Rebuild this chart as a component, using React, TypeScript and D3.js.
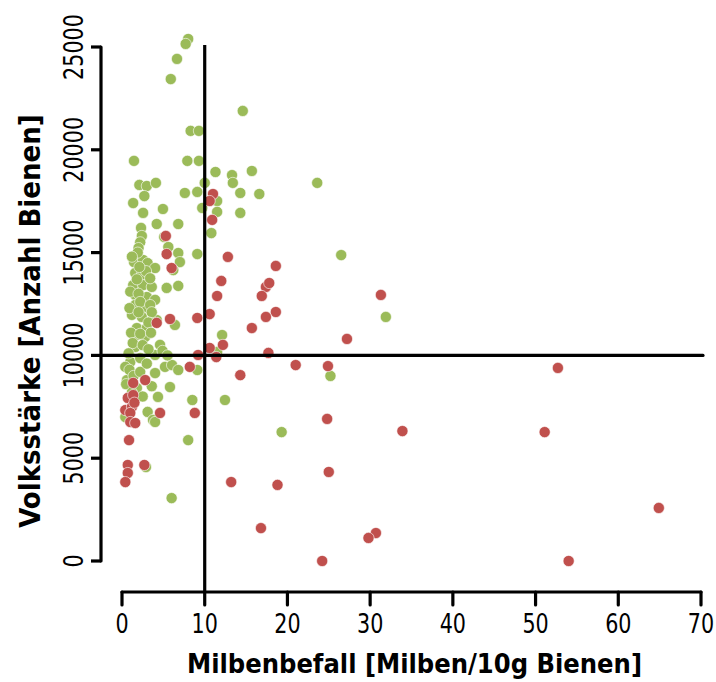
import React from "react";
import * as d3 from "d3";

// Green points (Milbenbefall, Volksstärke)
const greenX = [8.0,7.7,6.65,5.9,14.6,8.3,9.3,1.45,7.9,9.3,11.3,13.3,13.4,15.7,2.1,3.0,4.1,10.0,2.7,7.6,9.1,14.3,16.6,1.35,2.55,4.95,9.7,11.5,11.5,14.3,4.2,6.8,2.3,2.4,5.1,10.8,2.2,2.0,5.6,6.8,7.0,9.1,6.2,23.6,26.5,31.9,
  1.45,2.55,3.1,4.0,1.6,2.4,1.35,2.55,3.6,5.4,6.8,1.6,3.0,4.0,1.6,2.8,1.2,2.4,4.2,6.4,1.8,3.0,1.8,2.8,1.6,4.6,1.0,2.2,4.0,4.9,5.2,6.05,6.8,4.0,9.1,12.1,11.5,0.6,1.8,5.8,4.35,3.1,3.75,8.5,12.45,0.4,0.4,4.0,8.0,2.9,6.0,25.2,19.3,
  1.9,1.2,2.9,3.4,1.0,2.0,2.2,3.4,3.6,0.9,2.0,3.2,1.1,2.2,3.5,1.3,2.5,0.8,3.2,2.1,1.8,0.9,1.4,2.2,0.5,1.2,2.5,3.6,3.0,5.5];
const greenY = [25390,25150,24420,23440,21890,20920,20920,19460,19460,19460,18920,18770,18390,18970,18290,18240,18390,18390,17750,17900,17950,17900,17850,17410,16930,17120,17170,17510,16980,16930,16390,16390,16200,15810,15760,15950,15500,15220,15270,14980,14540,14930,14150,18390,14880,11870,
  14540,14640,14490,14250,14010,13910,13420,13420,13330,13280,13380,12940,12840,12700,12450,12350,11970,11870,11720,11480,11330,11330,10990,10900,10410,10510,9680,9870,10020,10220,9440,9530,9290,9140,9290,10990,10170,8800,8410,8460,7980,7250,6860,7830,7830,9440,7000,6760,5880,4570,3060,9000,6270,
  15000,14800,14100,13750,13100,13000,12600,12450,12100,12300,12100,11600,11100,11050,11100,10600,10500,10100,10300,14300,13700,9300,9000,9200,8600,8200,8000,8500,9600,10000];

// Red points
const redX = [11.0,10.6,10.9,12.8,5.3,5.4,6.0,18.6,12.0,11.5,17.4,17.8,16.9,18.6,17.4,15.7,10.6,9.1,4.2,5.8,31.3,27.2,12.2,10.6,11.4,9.2,17.7,21.0,24.9,52.7,14.3,8.2,1.35,2.8,
  0.7,1.35,0.4,1.2,1.0,1.0,1.6,1.5,4.6,8.8,0.85,0.7,0.7,0.4,2.7,24.8,33.9,51.1,25.0,13.2,18.8,64.9,16.8,30.7,29.8,24.2,54.0];
const redY = [17850,17510,16590,14790,15810,14930,14250,14350,13620,12890,13330,13520,12890,12110,11870,11330,12010,11820,11580,11770,12940,10800,10510,10360,9920,10020,10120,9530,9480,9390,9040,9440,8660,8800,
  7930,8070,7340,7490,7200,6760,6710,7700,7200,7200,5880,4670,4280,3840,4670,6910,6320,6270,4330,3840,3700,2580,1600,1360,1120,0,0];

const xTicks = [0,10,20,30,40,50,60,70];
const yTicks = [0,5000,10000,15000,20000,25000];
const xTitle = "Milbenbefall [Milben/10g Bienen]";
const yTitle = "Volksstärke [Anzahl Bienen]";

const GREEN = "#9BBB59";
const RED = "#C0504D";
const FONT = "'DejaVu Sans Condensed', 'DejaVu Sans', sans-serif";

export default function App() {
  const W = 716, H = 682;
  const x = d3.scaleLinear().domain([0, 70]).range([122, 701]);
  const y = d3.scaleLinear().domain([0, 25000]).range([561, 47]);
  const axisX = 101;
  const axisY = 592;
  const green = greenX.map((v, i) => [v, greenY[i]]);
  const red = redX.map((v, i) => [v, redY[i]]);
  return (
    <svg width={W} height={H} style={{ position: "absolute", left: 0, top: 0, background: "#fff" }}>
      {green.map((d, i) => (
        <circle key={"g" + i} cx={x(d[0])} cy={y(d[1])} r={5.6} fill={GREEN} stroke="#fff" strokeWidth={0.6} />
      ))}
      {red.map((d, i) => (
        <circle key={"r" + i} cx={x(d[0])} cy={y(d[1])} r={5.6} fill={RED} stroke="#fff" strokeWidth={0.6} />
      ))}
      <line x1={x(10)} x2={x(10)} y1={y(25000) - 2} y2={axisY} stroke="#000" strokeWidth={3.2} />
      <line x1={axisX} x2={x(70) + 2} y1={y(10000)} y2={y(10000)} stroke="#000" strokeWidth={3.2} strokeLinecap="round" />
      <line x1={axisX} x2={axisX} y1={y(25000)} y2={y(0)} stroke="#000" strokeWidth={3.2} strokeLinecap="round" />
      {yTicks.map((t) => (
        <g key={"yt" + t}>
          <line x1={axisX - 10} x2={axisX} y1={y(t)} y2={y(t)} stroke="#000" strokeWidth={3.2} />
          <text transform={`translate(${axisX - 18},${y(t)}) rotate(-90) scale(0.92,1.08)`} textAnchor="middle" fontFamily={FONT} fontSize={25} fill="#000">{t}</text>
        </g>
      ))}
      <line x1={x(0)} x2={x(70)} y1={axisY} y2={axisY} stroke="#000" strokeWidth={3.2} strokeLinecap="round" />
      {xTicks.map((t) => (
        <g key={"xt" + t}>
          <line x1={x(t)} x2={x(t)} y1={axisY} y2={axisY + 13} stroke="#000" strokeWidth={3.2} strokeLinecap="round" />
          <text transform={`translate(${x(t)},${axisY + 41}) scale(0.92,1.08)`} textAnchor="middle" fontFamily={FONT} fontSize={25} fill="#000">{t}</text>
        </g>
      ))}
      <text x={(x(0) + x(70)) / 2 + 3} y={673} textAnchor="middle" fontFamily={FONT} fontWeight="bold" fontSize={27} fill="#000">{xTitle}</text>
      <text transform={`translate(40,${(y(0) + y(25000)) / 2 + 17}) rotate(-90)`} textAnchor="middle" fontFamily={FONT} fontWeight="bold" fontSize={29} fill="#000">{yTitle}</text>
    </svg>
  );
}
